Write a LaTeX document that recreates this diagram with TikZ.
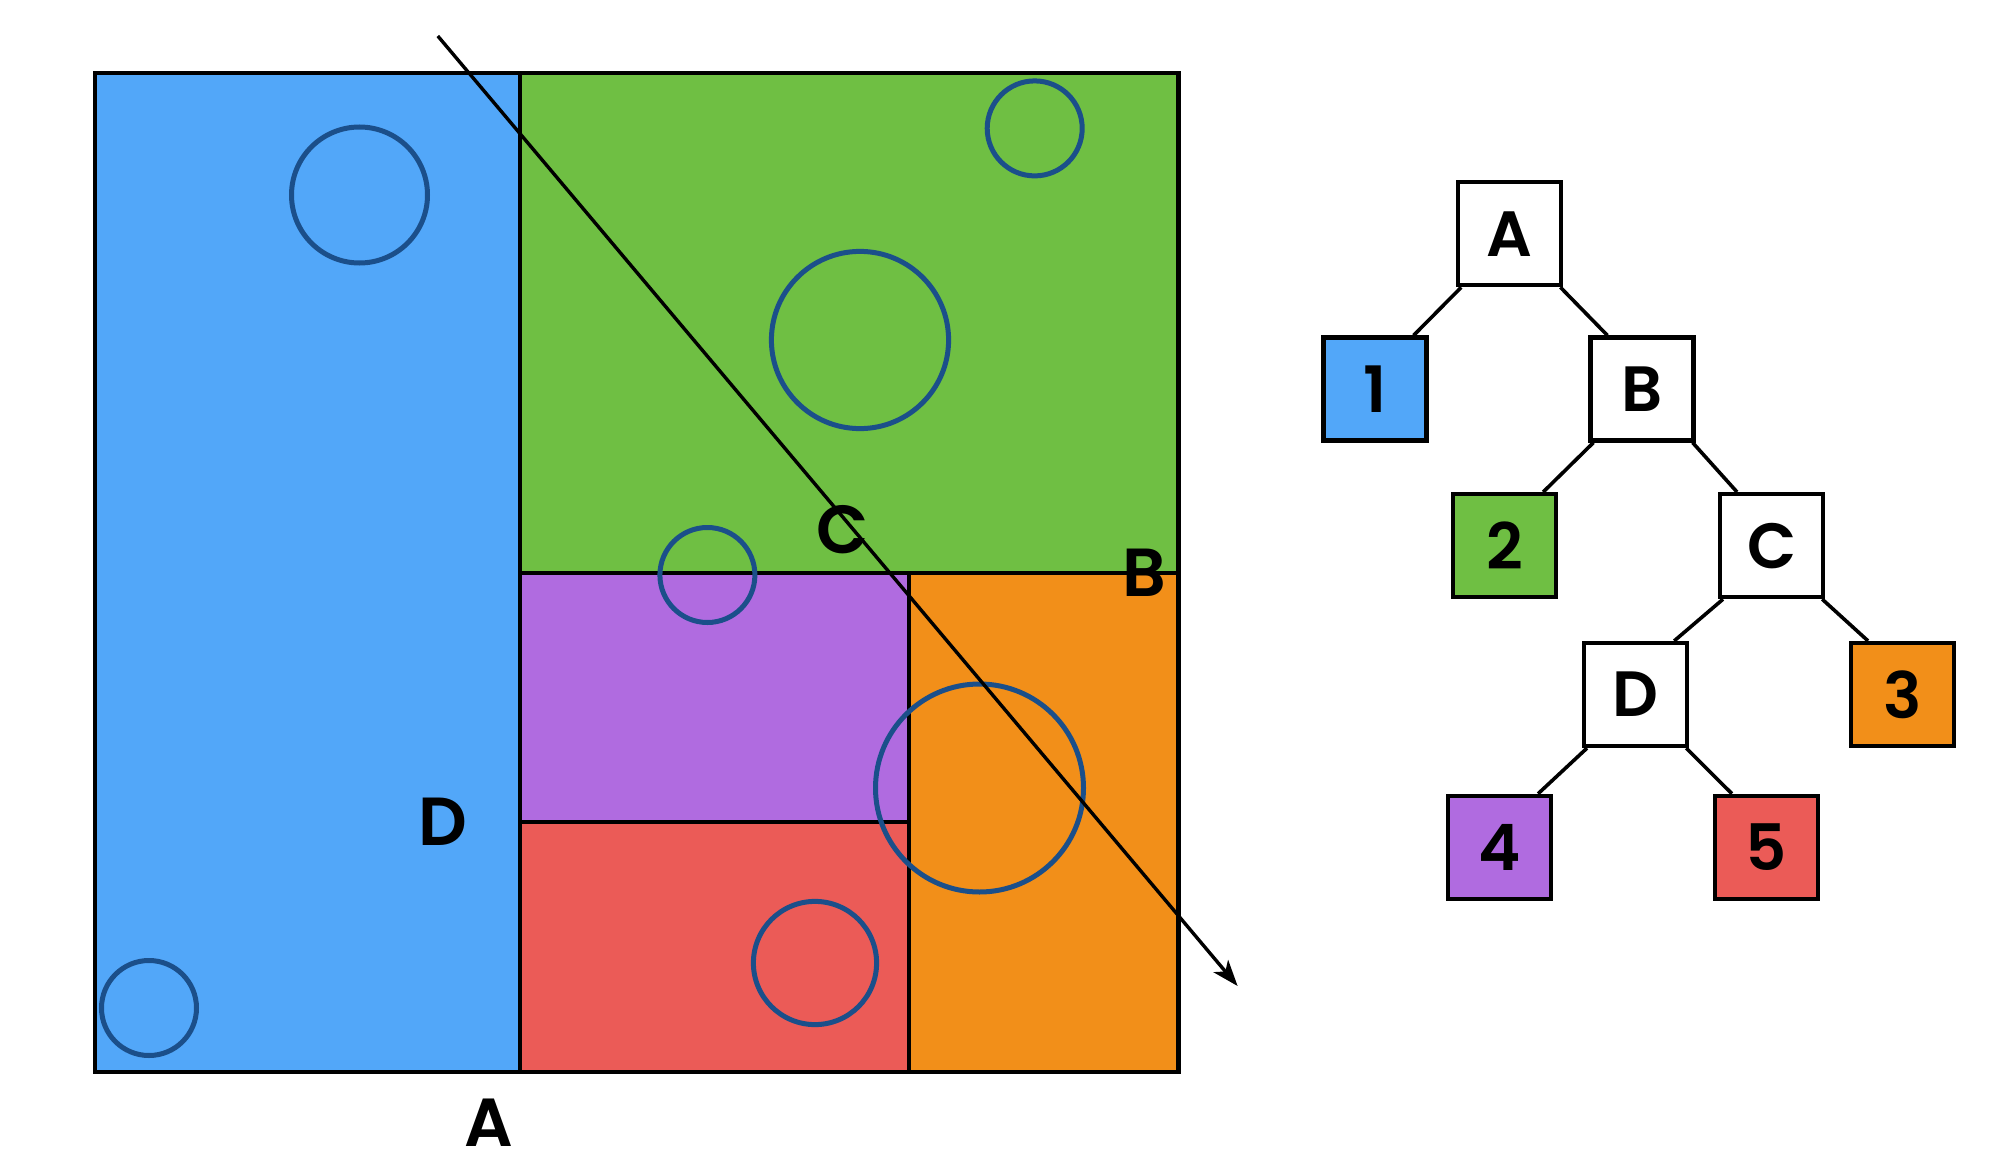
\documentclass[tikz,border=0pt]{standalone}
\usepackage{fontspec}
\setmainfont{Poppins}[BoldFont={Poppins SemiBold}]
\usetikzlibrary{arrows.meta}
\definecolor{cblue}{HTML}{52A7F9}
\definecolor{cgreen}{HTML}{6FBF43}
\definecolor{cpurple}{HTML}{B06BE0}
\definecolor{cred}{HTML}{EB5B57}
\definecolor{corange}{HTML}{F28F19}
\definecolor{cring}{HTML}{1B4F8A}
\tikzset{
  region/.style={draw=black, line width=4pt},
  ring/.style={draw=cring, line width=5pt},
  maplabel/.style={font=\fontsize{68}{68}\selectfont\bfseries, inner sep=0pt},
  treebox/.style={draw=black, line width=4.2pt, minimum size=103pt, inner sep=0pt, font=\fontsize{64}{64}\selectfont\bfseries},
  treeedge/.style={draw=black, line width=3.6pt},
}
\begin{document}
\begin{tikzpicture}[x=1pt,y=-1pt]
\useasboundingbox (0,0) rectangle (2013,1169);
% regions
\fill[cblue] (95,73) rectangle (520,1072);
\fill[cgreen] (520,73) rectangle (1178.5,572.6);
\fill[cpurple] (520,572.6) rectangle (909,821.6);
\fill[cred] (520,821.6) rectangle (909,1072);
\fill[corange] (909,572.6) rectangle (1178.5,1072);
\draw[region] (520,73) -- (520,1072);
\draw[region] (520,572.6) -- (1178.5,572.6);
\draw[region] (909,572.6) -- (909,1072);
\draw[region] (520,821.6) -- (909,821.6);
\draw[region, line width=4.6pt] (95,73) rectangle (1178.5,1072);
% circles
\draw[ring] (359.5,195) circle (68);
\draw[ring] (1034.7,128.4) circle (47.5);
\draw[ring] (860,340) circle (88.6);
\draw[ring] (707.4,575) circle (47.5);
\draw[ring] (979.5,788) circle (104);
\draw[ring] (815,963) circle (61.6);
\draw[ring] (149,1008) circle (47.5);
% labels
\node[maplabel] (lA) at (489,1123) {A};
\node[maplabel] (lB) at (1144,572.6) {B};
\node[maplabel] (lC) at (843,530) {C};
\node[maplabel] (lD) at (443,821.6) {D};
% ray
\coordinate (rs) at (437.8,36);
\coordinate (re) at (1237.6,986);
\draw[line width=3.4pt, -{Stealth[length=26pt,width=19pt,inset=7pt]}] (rs) -- (re);
% tree
\node[treebox, fill=white] (tA) at (1509.8,233.7) {A};
\node[treebox, fill=cblue] (t1) at (1375,389) {1};
\node[treebox, fill=white] (tB) at (1642,389) {B};
\node[treebox, fill=cgreen] (t2) at (1504.6,545.6) {2};
\node[treebox, fill=white] (tC) at (1771.6,545.6) {C};
\node[treebox, fill=white] (tD) at (1635.6,694.5) {D};
\node[treebox, fill=corange] (t3) at (1902.6,694.5) {3};
\node[treebox, fill=cpurple] (t4) at (1499.5,847.3) {4};
\node[treebox, fill=cred] (t5) at (1766.5,847.3) {5};
\draw[treeedge] ([xshift=5pt]tA.south west) -- ([xshift=-15pt]t1.north east);
\draw[treeedge] ([xshift=-3pt]tA.south east) -- ([xshift=19pt]tB.north west);
\draw[treeedge] ([xshift=5pt]tB.south west) -- ([xshift=-15pt]t2.north east);
\draw[treeedge] ([xshift=-3pt]tB.south east) -- ([xshift=19pt]tC.north west);
\draw[treeedge] ([xshift=5pt]tC.south west) -- ([xshift=-15pt]tD.north east);
\draw[treeedge] ([xshift=-3pt]tC.south east) -- ([xshift=19pt]t3.north west);
\draw[treeedge] ([xshift=5pt]tD.south west) -- ([xshift=-15pt]t4.north east);
\draw[treeedge] ([xshift=-3pt]tD.south east) -- ([xshift=19pt]t5.north west);
\end{tikzpicture}
\end{document}
